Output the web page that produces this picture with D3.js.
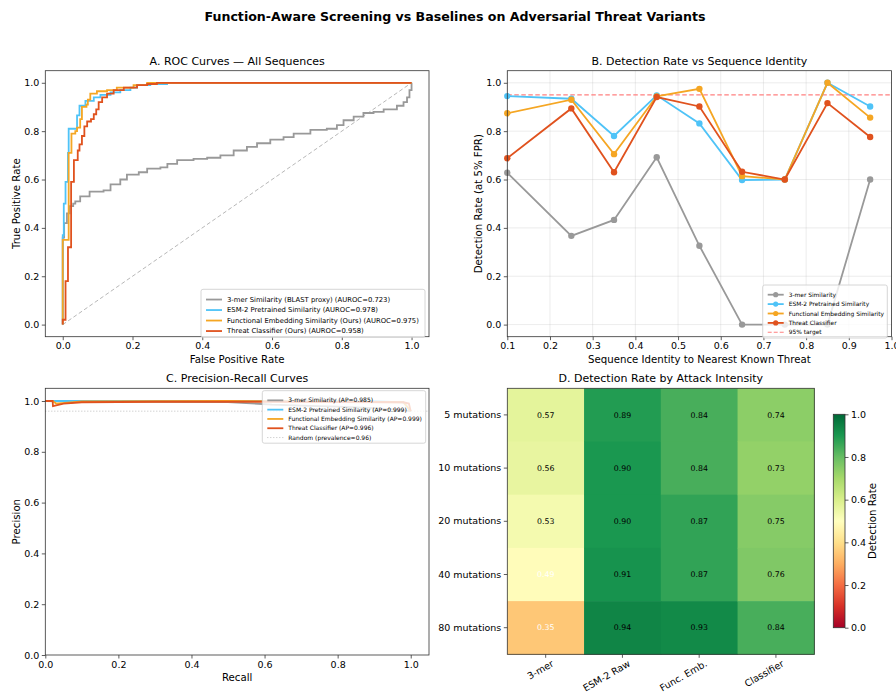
<!DOCTYPE html>
<html>
<head>
<meta charset="utf-8">
<script src="https://cdn.jsdelivr.net/npm/d3@7"></script>
<style>
  body { margin: 0; background: #fff; }
  text { font-family: "DejaVu Sans", sans-serif; fill: #000; }
</style>
</head>
<body>
<script>
// ---- data ----
const seriesNames = ["3-mer Similarity", "ESM-2 Pretrained Similarity", "Functional Embedding Similarity", "Threat Classifier"];
const seriesColors = ["#999999", "#4fc3f7", "#f5a623", "#e0521e"];

// ROC (fpr, tpr) corner points
const roc3merFpr = [0, 0, 0.004, 0.012, 0.02, 0.03, 0.036, 0.05, 0.077, 0.117, 0.137, 0.165, 0.184, 0.218, 0.242, 0.28, 0.30, 0.328, 0.375, 0.414, 0.452, 0.49, 0.528, 0.557, 0.595, 0.633, 0.662, 0.71, 0.757, 0.786, 0.805, 0.834, 0.862, 0.891, 0.92, 0.958, 0.977, 0.987, 0.994, 1.0];
const roc3merTpr = [0, 0.36, 0.42, 0.46, 0.49, 0.50, 0.51, 0.53, 0.55, 0.555, 0.58, 0.60, 0.62, 0.63, 0.645, 0.65, 0.665, 0.68, 0.685, 0.69, 0.70, 0.72, 0.735, 0.75, 0.765, 0.775, 0.79, 0.805, 0.81, 0.825, 0.845, 0.86, 0.875, 0.88, 0.89, 0.905, 0.92, 0.94, 0.97, 1.0];
const rocEsmFpr = [0, 0, 0.003, 0.008, 0.015, 0.017, 0.041, 0.048, 0.065, 0.089, 0.108, 0.137, 0.165, 0.194, 0.213, 0.251, 0.299, 1.0];
const rocEsmTpr = [0, 0.37, 0.50, 0.59, 0.71, 0.81, 0.865, 0.905, 0.925, 0.94, 0.95, 0.96, 0.97, 0.98, 0.99, 0.995, 1.0, 1.0];
const rocFuncFpr = [0, 0, 0.017, 0.025, 0.036, 0.041, 0.05, 0.055, 0.068, 0.072, 0.079, 0.098, 0.127, 0.155, 0.203, 0.242, 1.0];
const rocFuncTpr = [0, 0.35, 0.71, 0.79, 0.80, 0.815, 0.85, 0.90, 0.91, 0.93, 0.955, 0.965, 0.97, 0.98, 0.99, 1.0, 1.0];
const rocThreatFpr = [0, 0, 0.008, 0.015, 0.024, 0.032, 0.043, 0.048, 0.055, 0.062, 0.07, 0.081, 0.089, 0.096, 0.103, 0.113, 0.127, 0.146, 0.175, 0.213, 0.242, 0.27, 1.0];
const rocThreatTpr = [0, 0.02, 0.18, 0.32, 0.59, 0.68, 0.72, 0.745, 0.78, 0.82, 0.84, 0.85, 0.87, 0.89, 0.92, 0.94, 0.955, 0.97, 0.98, 0.99, 0.995, 1.0, 1.0];
const aurocLabels = ["3-mer Similarity (BLAST proxy) (AUROC=0.723)", "ESM-2 Pretrained Similarity (AUROC=0.978)", "Functional Embedding Similarity (Ours) (AUROC=0.975)", "Threat Classifier (Ours) (AUROC=0.958)"];

// detection rate vs identity
const identityBins = [0.1, 0.25, 0.35, 0.45, 0.55, 0.65, 0.75, 0.85, 0.95];
const det3mer = [0.628, 0.367, 0.433, 0.692, 0.326, 0.0, 0.0, 0.0, 0.600];
const detEsm = [0.945, 0.934, 0.780, 0.948, 0.832, 0.598, 0.600, 1.0, 0.902];
const detFunc = [0.874, 0.930, 0.705, 0.944, 0.975, 0.614, 0.600, 1.0, 0.856];
const detThreat = [0.688, 0.894, 0.630, 0.941, 0.902, 0.632, 0.600, 0.916, 0.776];
const targetRate = 0.95;

// precision-recall
const pr3merRec = [0, 0.1, 0.3, 0.5, 0.55, 0.62, 0.7, 0.8, 0.9, 0.97, 1.0];
const pr3merPrec = [1.0, 0.998, 0.997, 0.996, 0.992, 0.986, 0.982, 0.978, 0.972, 0.965, 0.96];
const prEsmRec = [0, 0.5, 0.9, 0.98, 1.0];
const prEsmPrec = [1.0, 1.0, 0.999, 0.995, 0.96];
const prFuncRec = [0, 0.02, 0.03, 0.1, 0.5, 0.98, 1.0];
const prFuncPrec = [1.0, 1.0, 0.99, 0.998, 1.0, 0.995, 0.96];
const prThreatRec = [0, 0.02, 0.021, 0.05, 0.1, 0.3, 0.6, 0.98, 0.995, 1.0];
const prThreatPrec = [1.0, 1.0, 0.98, 0.99, 0.995, 0.997, 0.997, 0.995, 0.99, 0.96];
const apLabels = ["3-mer Similarity (AP=0.985)", "ESM-2 Pretrained Similarity (AP=0.999)", "Functional Embedding Similarity (AP=0.999)", "Threat Classifier (AP=0.996)"];
const prevalence = 0.96;

// heatmap
const attackLevels = ["5 mutations", "10 mutations", "20 mutations", "40 mutations", "80 mutations"];
const methodShort = ["3-mer", "ESM-2 Raw", "Func. Emb.", "Classifier"];
const heat3mer = [0.57, 0.56, 0.53, 0.49, 0.35];
const heatEsm = [0.89, 0.90, 0.90, 0.91, 0.94];
const heatFunc = [0.84, 0.84, 0.87, 0.87, 0.93];
const heatClf = [0.74, 0.73, 0.75, 0.76, 0.84];

// ---- drawing ----
const svg = d3.select("body").append("svg")
    .attr("width", 896)
    .attr("height", 693);

svg.append("text")
    .attr("x", 455).attr("y", 21)
    .attr("text-anchor", "middle")
    .style("font-size", "12.6px").style("font-weight", "bold")
    .text("Function-Aware Screening vs Baselines on Adversarial Threat Variants");

const fmt1 = d3.format(".1f");

// make a plot area with ticks, title and labels
function makePanel(box, xDom, yDom, xTicks, yTicks, title, xLabel, yLabel, grid) {
    const w = box.x1 - box.x0, h = box.y1 - box.y0;
    const g = svg.append("g").attr("transform", `translate(${box.x0},${box.y0})`);
    const x = d3.scaleLinear().domain(xDom).range([0, w]);
    const y = d3.scaleLinear().domain(yDom).range([h, 0]);

    if (grid) {
        g.append("g").selectAll("line").data(xTicks).join("line")
            .attr("x1", d => x(d)).attr("x2", d => x(d)).attr("y1", 0).attr("y2", h)
            .attr("stroke", "#b0b0b0").attr("stroke-opacity", 0.3).attr("stroke-width", 0.8);
        g.append("g").selectAll("line").data(yTicks).join("line")
            .attr("y1", d => y(d)).attr("y2", d => y(d)).attr("x1", 0).attr("x2", w)
            .attr("stroke", "#b0b0b0").attr("stroke-opacity", 0.3).attr("stroke-width", 0.8);
    }

    const xa = g.append("g").attr("transform", `translate(0,${h})`)
        .call(d3.axisBottom(x).tickValues(xTicks).tickFormat(fmt1).tickSize(3.5).tickPadding(2.5));
    const ya = g.append("g")
        .call(d3.axisLeft(y).tickValues(yTicks).tickFormat(fmt1).tickSize(3.5).tickPadding(2.5));
    [xa, ya].forEach(a => {
        a.select(".domain").remove();
        a.selectAll("line").attr("stroke", "#333").attr("stroke-width", 0.8);
        a.selectAll("text").style("font-size", "9.5px").attr("fill", "#222");
    });

    g.append("text").attr("x", w / 2).attr("y", -6).attr("text-anchor", "middle")
        .style("font-size", "11px").text(title);
    g.append("text").attr("x", w / 2).attr("y", h + 26).attr("text-anchor", "middle")
        .style("font-size", "10.2px").text(xLabel);
    g.append("text").attr("transform", `translate(${-box.x0 + (box.yl || 16)},${h / 2}) rotate(-90)`)
        .attr("text-anchor", "middle").attr("dy", "0.35em")
        .style("font-size", "10.2px").text(yLabel);

    return { g, x, y, w, h };
}

function frame(p) {
    p.g.append("rect").attr("width", p.w).attr("height", p.h)
        .attr("fill", "none").attr("stroke", "#333").attr("stroke-width", 0.8);
}

function legend(p, lx, ly, bw, items, fontSize, rowH, withMarker) {
    const lg = p.g.append("g").attr("transform", `translate(${lx},${ly})`);
    lg.append("rect").attr("width", bw).attr("height", items.length * rowH + 6)
        .attr("rx", 2).attr("fill", "#fff").attr("fill-opacity", 0.8)
        .attr("stroke", "#cccccc").attr("stroke-width", 0.8);
    items.forEach((it, i) => {
        const yy = 5 + rowH * i + rowH / 2;
        lg.append("line").attr("x1", 5).attr("x2", 21).attr("y1", yy).attr("y2", yy)
            .attr("stroke", it.color).attr("stroke-width", it.width || 1.8)
            .attr("stroke-dasharray", it.dash || null)
            .attr("stroke-opacity", it.opacity || 1);
        if (withMarker && it.marker) {
            lg.append("circle").attr("cx", 13).attr("cy", yy).attr("r", 2.6).attr("fill", it.color);
        }
        lg.append("text").attr("x", 26).attr("y", yy).attr("dy", "0.35em")
            .style("font-size", fontSize + "px").attr("fill", "#222").text(it.label);
    });
}

const ticks01 = [0, 0.2, 0.4, 0.6, 0.8, 1.0];

// ---- A. ROC ----
const pA = makePanel({ x0: 45.3, x1: 429, y0: 70.7, y1: 336.7 }, [-0.05, 1.05], [-0.05, 1.05],
    ticks01, ticks01, "A. ROC Curves — All Sequences", "False Positive Rate", "True Positive Rate", false);
pA.g.append("line")
    .attr("x1", pA.x(0)).attr("y1", pA.y(0)).attr("x2", pA.x(1)).attr("y2", pA.y(1))
    .attr("stroke", "#999").attr("stroke-opacity", 0.7).attr("stroke-width", 1)
    .attr("stroke-dasharray", "4,2.5");
const rocSets = [[roc3merFpr, roc3merTpr], [rocEsmFpr, rocEsmTpr], [rocFuncFpr, rocFuncTpr], [rocThreatFpr, rocThreatTpr]];
const rocLine = d3.line().x(d => pA.x(d[0])).y(d => pA.y(d[1])).curve(d3.curveStepAfter);
rocSets.forEach((s, i) => {
    pA.g.append("path").datum(d3.zip(s[0], s[1]))
        .attr("d", rocLine).attr("fill", "none")
        .attr("stroke", seriesColors[i]).attr("stroke-width", 1.8);
});
frame(pA);
legend(pA, 201 - 45.3, 289.3 - 70.7, 224, aurocLabels.map((l, i) => ({ label: l, color: seriesColors[i] })), 6.85, 10.5, false);

// ---- B. detection vs identity ----
const pB = makePanel({ x0: 507.3, x1: 891.5, y0: 70.7, y1: 336.7, yl: 478 }, [0.1, 1.0], [-0.05, 1.05],
    d3.range(1, 11).map(d => d / 10), ticks01, "B. Detection Rate vs Sequence Identity",
    "Sequence Identity to Nearest Known Threat", "Detection Rate (at 5% FPR)", true);
pB.g.append("line")
    .attr("x1", 0).attr("x2", pB.w).attr("y1", pB.y(targetRate)).attr("y2", pB.y(targetRate))
    .attr("stroke", "#ff8080").attr("stroke-width", 1.1).attr("stroke-dasharray", "4.5,2.5");
const detSets = [det3mer, detEsm, detFunc, detThreat];
const detLine = d3.line().x(d => pB.x(d[0])).y(d => pB.y(d[1]));
detSets.forEach((s, i) => {
    const pts = d3.zip(identityBins, s);
    pB.g.append("path").datum(pts).attr("d", detLine).attr("fill", "none")
        .attr("stroke", seriesColors[i]).attr("stroke-width", 1.8);
    pB.g.append("g").selectAll("circle").data(pts).join("circle")
        .attr("cx", d => pB.x(d[0])).attr("cy", d => pB.y(d[1])).attr("r", 3.2)
        .attr("fill", seriesColors[i]);
});
frame(pB);
legend(pB, 762.7 - 507.3, 285 - 70.7, 124.6,
    seriesNames.map((l, i) => ({ label: l, color: seriesColors[i], marker: true }))
        .concat([{ label: "95% target", color: "#ff8080", dash: "4,2", width: 1.1 }]),
    5.9, 9.4, true);

// ---- C. precision-recall ----
const pC = makePanel({ x0: 45.3, x1: 429, y0: 388.3, y1: 655 }, [0, 1.05], [0, 1.05],
    ticks01, ticks01, "C. Precision-Recall Curves", "Recall", "Precision", false);
pC.g.append("line")
    .attr("x1", 0).attr("x2", pC.w).attr("y1", pC.y(prevalence)).attr("y2", pC.y(prevalence))
    .attr("stroke", "#999").attr("stroke-opacity", 0.7).attr("stroke-width", 0.9)
    .attr("stroke-dasharray", "1,2");
const prSets = [[pr3merRec, pr3merPrec], [prEsmRec, prEsmPrec], [prFuncRec, prFuncPrec], [prThreatRec, prThreatPrec]];
const prLine = d3.line().x(d => pC.x(d[0])).y(d => pC.y(d[1]));
prSets.forEach((s, i) => {
    pC.g.append("path").datum(d3.zip(s[0], s[1]))
        .attr("d", prLine).attr("fill", "none")
        .attr("stroke", seriesColors[i]).attr("stroke-width", 1.8);
});
frame(pC);
legend(pC, 262.3 - 45.3, 390.7 - 388.3, 163.4,
    apLabels.map((l, i) => ({ label: l, color: seriesColors[i] }))
        .concat([{ label: "Random (prevalence=0.96)", color: "#999", dash: "1,2", width: 0.9, opacity: 0.7 }]),
    6.0, 9.3, false);

// ---- D. heatmap ----
const hx0 = 507.3, hx1 = 814.3, hy0 = 388.3, hy1 = 654.3;
const gD = svg.append("g").attr("transform", `translate(${hx0},${hy0})`);
const hw = hx1 - hx0, hh = hy1 - hy0;
const colX = d3.scaleBand().domain(methodShort).range([0, hw]);
const rowY = d3.scaleBand().domain(attackLevels).range([0, hh]);
const rdylgn = d3.schemeRdYlGn[11];
const color = d3.scaleLinear().domain(d3.range(11).map(i => i / 10)).range(rdylgn).interpolate(d3.interpolateRgb);
const heatCols = [heat3mer, heatEsm, heatFunc, heatClf];
const cells = [];
heatCols.forEach((col, j) => col.forEach((v, i) => cells.push({ m: methodShort[j], a: attackLevels[i], v })));

gD.selectAll("rect.cell").data(cells).join("rect")
    .attr("class", "cell")
    .attr("x", d => colX(d.m)).attr("y", d => rowY(d.a))
    .attr("width", colX.bandwidth() + 0.5).attr("height", rowY.bandwidth() + 0.5)
    .attr("fill", d => color(d.v));
gD.selectAll("text.val").data(cells).join("text")
    .attr("class", "val")
    .attr("x", d => colX(d.m) + colX.bandwidth() / 2).attr("y", d => rowY(d.a) + rowY.bandwidth() / 2)
    .attr("text-anchor", "middle").attr("dy", "0.35em")
    .style("font-size", "7.8px")
    .style("fill", d => d.v < 0.5 ? "#fff" : "#000")
    .text(d => d.v.toFixed(2));
gD.append("rect").attr("width", hw).attr("height", hh)
    .attr("fill", "none").attr("stroke", "#333").attr("stroke-width", 0.8);

const dxa = gD.append("g").attr("transform", `translate(0,${hh})`)
    .call(d3.axisBottom(colX).tickSize(3.5).tickPadding(2));
dxa.selectAll("text")
    .style("text-anchor", "end").style("font-size", "9.5px")
    .attr("dx", "0.2em").attr("dy", "0.9em")
    .attr("transform", "rotate(-30)");
const dya = gD.append("g")
    .call(d3.axisLeft(rowY).tickSize(3.5).tickPadding(2.5));
[dxa, dya].forEach(a => {
    a.select(".domain").remove();
    a.selectAll("line").attr("stroke", "#333").attr("stroke-width", 0.8);
    a.selectAll("text").attr("fill", "#222");
});
dya.selectAll("text").style("font-size", "9.5px");
gD.append("text").attr("x", hw / 2).attr("y", -6).attr("text-anchor", "middle")
    .style("font-size", "11px").text("D. Detection Rate by Attack Intensity");

// colorbar
const cbx = 833.3, cbw = 11.7, cby0 = 414.3, cby1 = 627.7;
const defs = svg.append("defs");
const grad = defs.append("linearGradient").attr("id", "cbgrad")
    .attr("x1", 0).attr("x2", 0).attr("y1", 1).attr("y2", 0);
d3.range(0, 1.0001, 0.05).forEach(t => {
    grad.append("stop").attr("offset", t).attr("stop-color", color(t));
});
svg.append("rect").attr("x", cbx).attr("y", cby0).attr("width", cbw).attr("height", cby1 - cby0)
    .attr("fill", "url(#cbgrad)").attr("stroke", "#333").attr("stroke-width", 0.8);
const cbScale = d3.scaleLinear().domain([0, 1]).range([cby1, cby0]);
const cba = svg.append("g").attr("transform", `translate(${cbx + cbw},0)`)
    .call(d3.axisRight(cbScale).tickValues(ticks01).tickFormat(fmt1).tickSize(3.5).tickPadding(2.5));
cba.select(".domain").remove();
cba.selectAll("line").attr("stroke", "#333").attr("stroke-width", 0.8);
cba.selectAll("text").style("font-size", "9.5px").attr("fill", "#222");
svg.append("text").attr("transform", `translate(872,${(cby0 + cby1) / 2}) rotate(-90)`)
    .attr("text-anchor", "middle").attr("dy", "0.35em")
    .style("font-size", "10.2px").text("Detection Rate");
</script>
</body>
</html>
